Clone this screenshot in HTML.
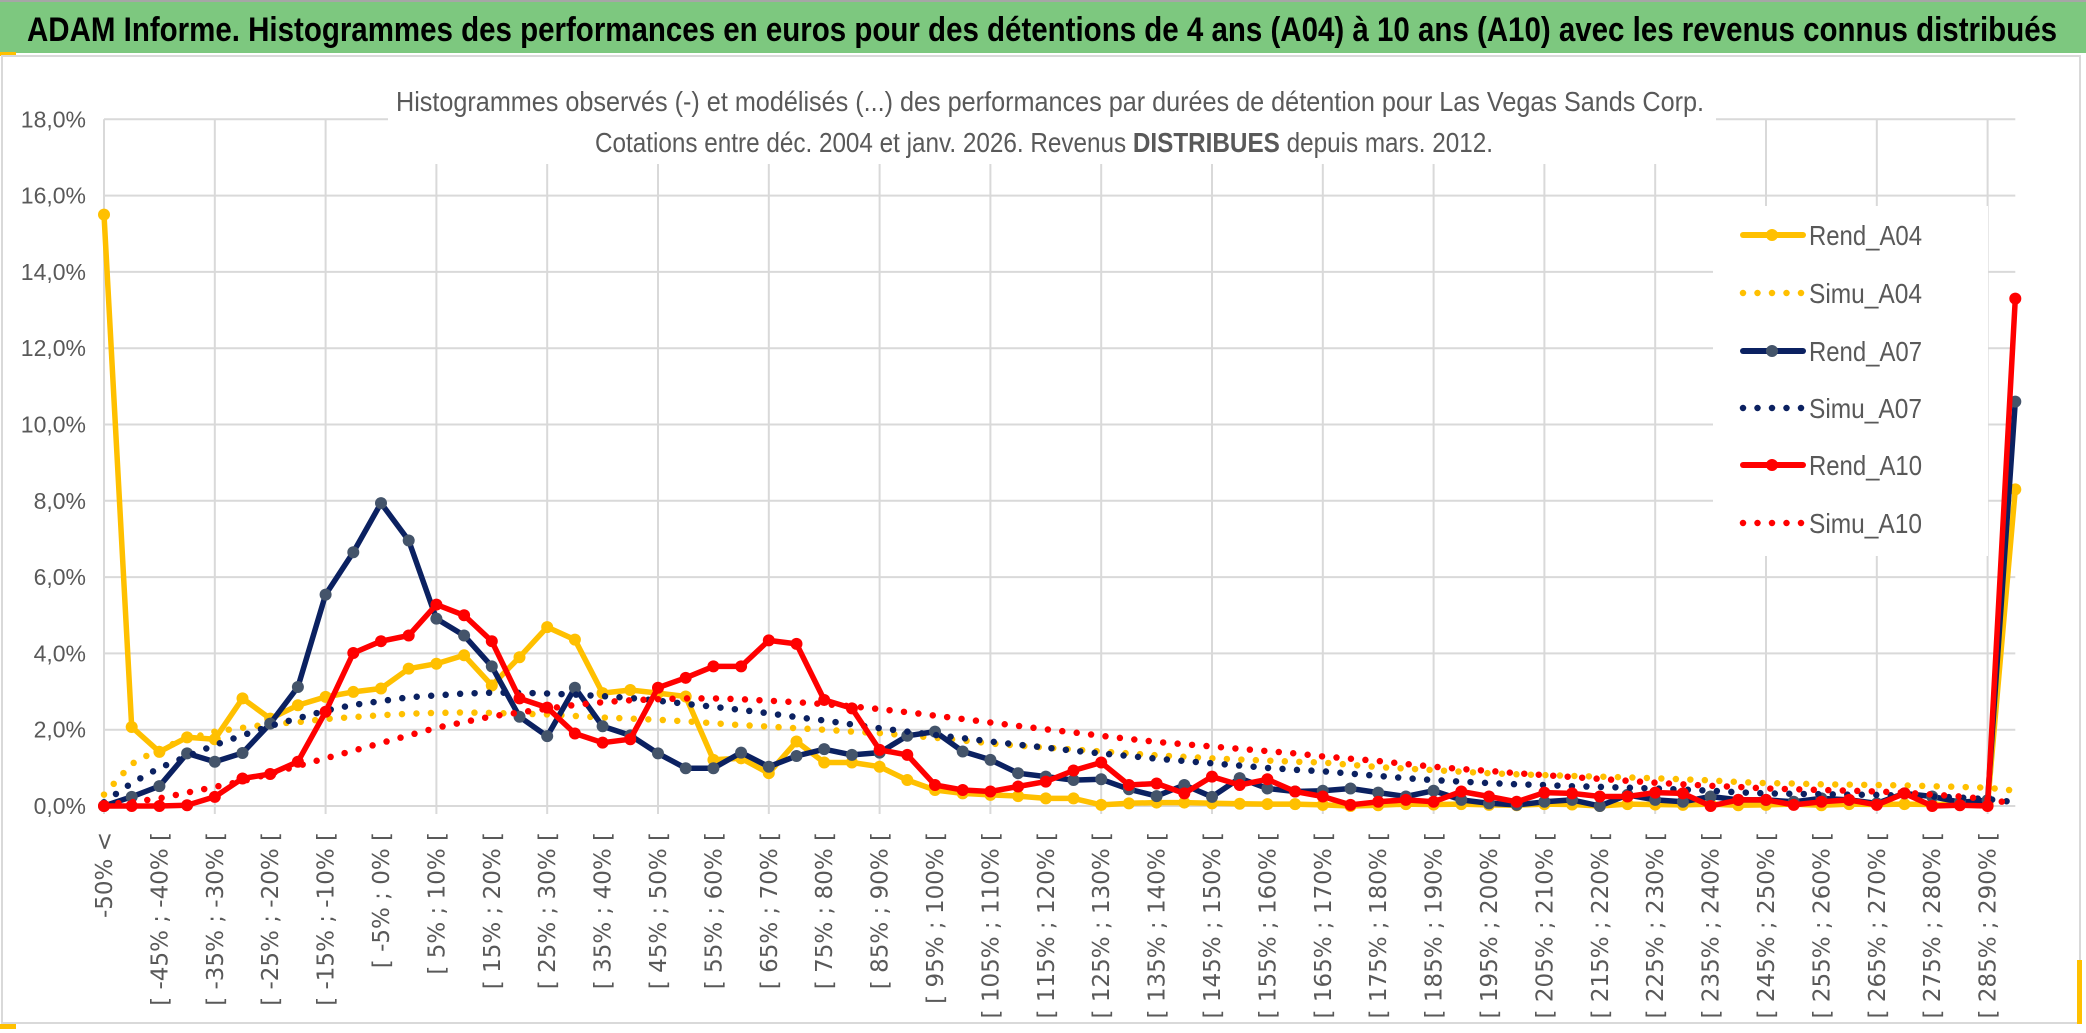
<!DOCTYPE html>
<html><head><meta charset="utf-8"><style>
html,body{margin:0;padding:0;background:#fff;width:2086px;height:1033px;overflow:hidden}
svg{display:block}
text{font-family:"Liberation Sans Narrow","Liberation Sans",sans-serif}
</style></head><body>
<svg id="chart" width="2086" height="1033" viewBox="0 0 2086 1033">
<rect x="0" y="0" width="2086" height="1033" fill="#fff"/>
<rect x="0" y="0" width="2086" height="2" fill="#a6a6a6"/>
<rect x="0" y="2" width="2086" height="51" fill="#7dc87f"/>
<rect x="0" y="52" width="16" height="4" fill="#ffc000"/>
<text x="27" y="41" font-size="34" font-weight="bold" fill="#000" textLength="2030" lengthAdjust="spacingAndGlyphs">ADAM Informe. Histogrammes des performances en euros pour des détentions de 4 ans (A04) à 10 ans (A10) avec les revenus connus distribués</text>
<rect x="2" y="56" width="2078" height="967" fill="none" stroke="#d9d9d9" stroke-width="2"/>
<rect x="2077" y="960" width="5" height="64" fill="#ffc000"/>
<rect x="0" y="1024" width="16" height="5" fill="#ffc000"/>
<g id="grid"></g>
<g id="yaxis"></g>
<g id="xaxis"></g>
<rect x="388" y="84" width="1328" height="80" fill="#fff"/>
<text x="396" y="111" font-size="28" fill="#595959" font-weight="500" textLength="1308" lengthAdjust="spacingAndGlyphs">Histogrammes observés (-) et modélisés (...) des performances par durées de détention pour Las Vegas Sands Corp.</text>
<text x="595" y="152" font-size="28" fill="#595959" font-weight="500" textLength="898" lengthAdjust="spacingAndGlyphs">Cotations entre déc. 2004 et janv. 2026. Revenus <tspan font-weight="bold">DISTRIBUES</tspan> depuis mars. 2012.</text>
<rect x="1713" y="206" width="275" height="350" fill="#fff"/>
<g id="series"></g>
<g id="legend"></g>
</svg>
<script>
const rendA04 = [15.5,2.07,1.42,1.8,1.75,2.82,2.29,2.64,2.86,2.99,3.08,3.6,3.73,3.95,3.16,3.9,4.69,4.36,2.96,3.04,2.96,2.87,1.21,1.25,0.86,1.69,1.14,1.14,1.03,0.68,0.42,0.33,0.29,0.26,0.2,0.2,0.03,0.07,0.09,0.09,0.07,0.06,0.05,0.05,0.03,0.0,0.02,0.05,0.04,0.05,0.03,0.02,0.05,0.04,0.0,0.05,0.04,0.03,0.05,0.02,0.03,0.05,0.02,0.05,0.04,0.05,0.04,0.05,0.05,8.3];
const simuA04 = [0.3,1.1,1.5,1.75,1.95,2.05,2.15,2.2,2.28,2.33,2.38,2.42,2.44,2.45,2.44,2.42,2.4,2.36,2.32,2.29,2.26,2.22,2.17,2.12,2.08,2.04,2.0,1.95,1.91,1.85,1.79,1.72,1.64,1.58,1.53,1.48,1.43,1.38,1.33,1.29,1.25,1.22,1.19,1.16,1.14,1.08,1.02,0.98,0.94,0.9,0.86,0.83,0.81,0.79,0.77,0.75,0.73,0.7,0.67,0.63,0.6,0.59,0.57,0.56,0.55,0.54,0.52,0.5,0.48,0.4];
const rendA07 = [0,0.24,0.52,1.38,1.16,1.39,2.16,3.12,5.54,6.65,7.94,6.96,4.91,4.47,3.66,2.34,1.83,3.1,2.09,1.85,1.38,0.99,0.99,1.4,1.03,1.31,1.49,1.34,1.4,1.84,1.95,1.43,1.21,0.86,0.77,0.68,0.7,0.44,0.26,0.55,0.24,0.73,0.46,0.38,0.4,0.46,0.35,0.25,0.4,0.16,0.07,0.03,0.11,0.16,0.0,0.29,0.16,0.11,0.25,0.16,0.16,0.11,0.2,0.16,0.07,0.33,0.25,0.1,0.15,10.6];
const simuA07 = [0.1,0.6,1.0,1.3,1.6,1.85,2.1,2.3,2.5,2.65,2.75,2.85,2.9,2.95,2.97,2.97,2.95,2.92,2.88,2.83,2.76,2.68,2.6,2.52,2.43,2.33,2.24,2.14,2.04,1.95,1.86,1.78,1.69,1.61,1.53,1.45,1.38,1.31,1.24,1.18,1.12,1.06,1.0,0.95,0.91,0.85,0.79,0.73,0.68,0.64,0.6,0.57,0.55,0.52,0.5,0.48,0.46,0.43,0.4,0.36,0.33,0.32,0.31,0.3,0.29,0.27,0.25,0.22,0.18,0.1];
const rendA10 = [0,0,0,0.02,0.24,0.72,0.84,1.16,2.47,4.01,4.32,4.47,5.28,5.0,4.32,2.82,2.58,1.9,1.66,1.75,3.1,3.36,3.66,3.66,4.34,4.25,2.78,2.56,1.47,1.34,0.55,0.42,0.38,0.51,0.64,0.93,1.14,0.55,0.59,0.33,0.77,0.55,0.7,0.38,0.25,0.03,0.11,0.16,0.11,0.38,0.25,0.11,0.35,0.33,0.25,0.25,0.35,0.33,0.0,0.16,0.16,0.03,0.11,0.16,0.03,0.33,0.0,0.02,0.0,13.3];
const simuA10 = [0.05,0.1,0.2,0.35,0.5,0.65,0.85,1.05,1.25,1.45,1.65,1.85,2.05,2.2,2.35,2.45,2.55,2.65,2.72,2.77,2.8,2.82,2.82,2.8,2.76,2.72,2.67,2.61,2.54,2.46,2.37,2.28,2.19,2.1,2.01,1.93,1.84,1.76,1.68,1.62,1.56,1.5,1.44,1.38,1.3,1.24,1.18,1.1,1.03,0.97,0.92,0.86,0.81,0.76,0.71,0.66,0.61,0.57,0.53,0.5,0.46,0.44,0.42,0.4,0.38,0.35,0.3,0.25,0.18,0.05];
const yTicks = [0,2,4,6,8,10,12,14,16,18];
const yTickLabels = ["0,0%","2,0%","4,0%","6,0%","8,0%","10,0%","12,0%","14,0%","16,0%","18,0%"];
const seriesNames = ["Rend_A04","Simu_A04","Rend_A07","Simu_A07","Rend_A10","Simu_A10"];

const NS = "http://www.w3.org/2000/svg";
const N = rendA04.length;
const X0 = 104, DX = 27.7, Y0 = 806, YPER = 38.15;
function xs(i){ return X0 + i*DX; }
function ys(v){ return Y0 - v*YPER; }
function mk(tag, attrs, parent){ const e = document.createElementNS(NS, tag); for (const k in attrs) e.setAttribute(k, attrs[k]); parent.appendChild(e); return e; }
function catLabel(i){ if (i===0) return "-50% <"; if (i===N-1) return "> 290%"; const a = -50 + 5*(i-1); return "[ " + a + "% ; " + (a+5) + "% ["; }

const grid = document.getElementById('grid');
yTicks.forEach(function(t){
  const l = mk('line', {x1:X0, x2:xs(N-1), y1:ys(t), y2:ys(t), stroke:'#d9d9d9', 'stroke-width':2}, grid);
  
  
});
for (let i=0;i<N;i+=4){
  const l = mk('line', {x1:xs(i), x2:xs(i), y1:ys(18), y2:Y0+8, stroke:'#d9d9d9', 'stroke-width':2}, grid);
  
  
}
const yaxis = document.getElementById('yaxis');
yTicks.forEach(function(t,k){
  const tx = mk('text', {x:86, y:ys(t)+8, 'text-anchor':'end', 'font-size':23, fill:'#595959'}, yaxis);
  tx.textContent = yTickLabels[k];
  
  
});
const xaxis = document.getElementById('xaxis');
for (let i=0;i<N-1;i+=2){
  const cx = xs(i)+8, cy = 832;
  const tx = mk('text', {x:cx, y:cy, 'text-anchor':'end', transform:'rotate(-90 '+cx+' '+cy+')', 'font-size':23, fill:'#595959', style:'font-family:"DejaVu Sans","Liberation Sans",sans-serif'}, xaxis);
  tx.textContent = catLabel(i);
  
  
}
const series = document.getElementById('series');
function pts(arr){ return arr.map(function(v,i){ return xs(i).toFixed(1)+','+ys(v).toFixed(1); }).join(' '); }
function drawRend(arr, color, marker, name){
  const g = mk('g', {}, series);
  
  
  const pl = mk('polyline', {points:pts(arr), fill:'none', stroke:color, 'stroke-width':5.5, 'stroke-linejoin':'round'}, g);
  
  
  arr.forEach(function(v,i){
    const c = mk('circle', {cx:xs(i), cy:ys(v), r:6, fill:marker}, g);
    
    
  });
}
function drawSimu(arr, color, name){
  const pl = mk('polyline', {points:pts(arr), fill:'none', stroke:color, 'stroke-width':6.5, 'stroke-linecap':'round', 'stroke-dasharray':'0 14.5'}, series);
  
  
}
drawRend(rendA04, '#ffc000', '#ffc000', 'rend-a04');
drawSimu(simuA04, '#ffc000', 'simu-a04');
drawRend(rendA07, '#0b2161', '#44546a', 'rend-a07');
drawSimu(simuA07, '#0b2161', 'simu-a07');
drawRend(rendA10, '#ff0000', '#ff0000', 'rend-a10');
drawSimu(simuA10, '#ff0000', 'simu-a10');

const legend = document.getElementById('legend');
const legColors = ['#ffc000','#ffc000','#0b2161','#0b2161','#ff0000','#ff0000'];
const legMarkers = ['#ffc000',null,'#44546a',null,'#ff0000',null];
const legY = [235,293,351,408,465,523];
seriesNames.forEach(function(nm,k){
  const g = mk('g', {}, legend);
  
  
  const y = legY[k];
  if (legMarkers[k]){
    mk('line', {x1:1743, x2:1803, y1:y, y2:y, stroke:legColors[k], 'stroke-width':6, 'stroke-linecap':'round'}, g);
    mk('circle', {cx:1772, cy:y, r:6, fill:legMarkers[k]}, g);
  } else {
    mk('line', {x1:1743, x2:1803, y1:y, y2:y, stroke:legColors[k], 'stroke-width':6.5, 'stroke-linecap':'round', 'stroke-dasharray':'0 14.5'}, g);
  }
  const tx = mk('text', {x:1809, y:y+10, 'font-size':28, fill:'#595959', textLength:113, lengthAdjust:'spacingAndGlyphs'}, g);
  tx.textContent = nm;
  
  
});
</script>
</body></html>
